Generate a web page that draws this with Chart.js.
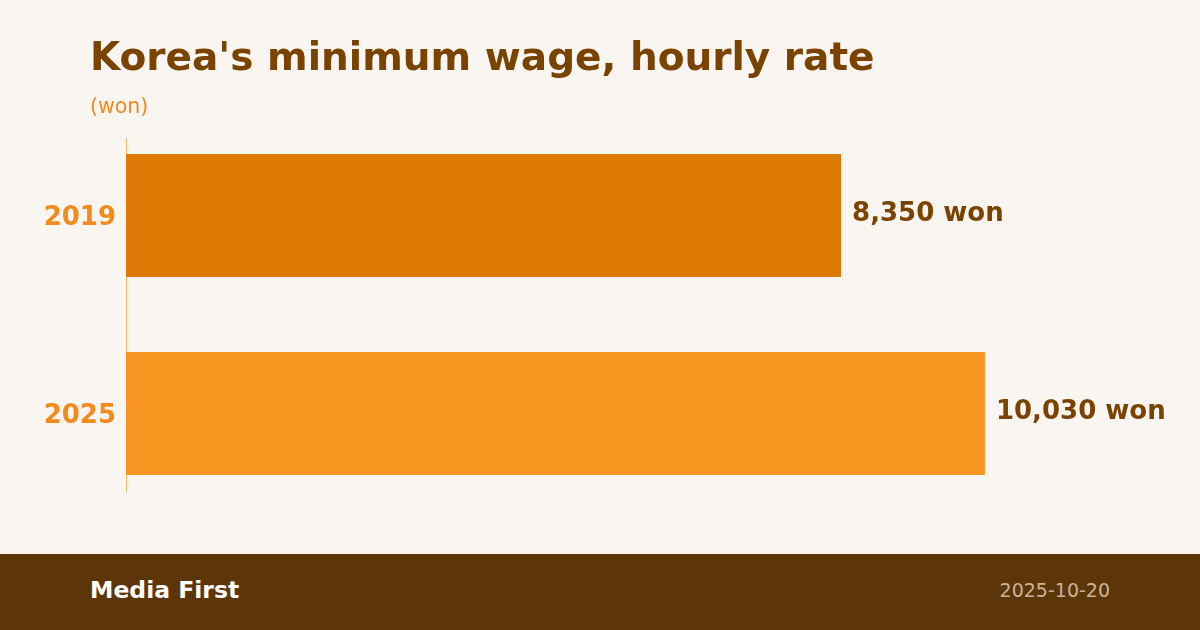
<!DOCTYPE html>
<html>
<head>
<meta charset="utf-8">
<script src="https://cdn.jsdelivr.net/npm/chart.js@4.4.1/dist/chart.umd.min.js"></script>
<style>
	html, body {
		margin: 0;
		padding: 0;
		background: #F9F6F1;
		font-family: "DejaVu Sans", sans-serif;
	}
	#page {
		position: relative;
		width: 1200px;
		height: 630px;
		overflow: hidden;
		background: #F9F6F1;
	}
	#title {
		position: absolute;
		left: 90px;
		top: 34px;
		font-size: 39px;
		font-weight: bold;
		color: #7A4300;
		white-space: nowrap;
	}
	#unit {
		position: absolute;
		left: 90px;
		top: 94px;
		font-size: 20.5px;
		color: #F28B1C;
	}
	#wrapper-chart {
		position: absolute;
		left: 0;
		top: 0;
		width: 1200px;
		height: 554px;
	}
	#footer {
		position: absolute;
		left: 0;
		top: 554px;
		width: 1200px;
		height: 76px;
		background: #5C3508;
	}
	#brand {
		position: absolute;
		left: 90px;
		top: 22px;
		font-size: 23.5px;
		font-weight: bold;
		color: #FFFFFF;
	}
	#date {
		position: absolute;
		right: 90px;
		top: 25px;
		font-size: 19px;
		color: #C9B49A;
	}
</style>
</head>
<body>
<div id="page">
	<div id="wrapper-chart"><canvas id="bar-wage"></canvas></div>
	<div id="title">Korea's minimum wage, hourly rate</div>
	<div id="unit">(won)</div>
	<div id="footer">
		<div id="brand">Media First</div>
		<div id="date">2025-10-20</div>
	</div>
</div>
<script>
	const years = ["2019", "2025"];
	const wages = [8350, 10030];
	const barColors = ["#DE7A05", "#F79520"];
	const valueLabels = ["8,350 won", "10,030 won"];

	// thin axis line next to the bars, a bit shorter than the plot area
	const axisLine = {
		id: "axisLine",
		beforeDatasetsDraw(chart) {
			const { ctx, chartArea } = chart;
			ctx.save();
			ctx.strokeStyle = "#F8B86E";
			ctx.lineWidth = 1;
			ctx.beginPath();
			ctx.moveTo(chartArea.left + 0.5, chartArea.top + 21.5);
			ctx.lineTo(chartArea.left + 0.5, chartArea.bottom - 20.5);
			ctx.stroke();
			ctx.restore();
		},
	};

	// value text at the end of each bar
	const barValues = {
		id: "barValues",
		afterDatasetsDraw(chart) {
			const { ctx } = chart;
			const meta = chart.getDatasetMeta(0);
			ctx.save();
			ctx.font = "bold 26px 'DejaVu Sans'";
			ctx.fillStyle = "#7A4300";
			ctx.textAlign = "left";
			ctx.textBaseline = "middle";
			meta.data.forEach((bar, i) => {
				ctx.fillText(valueLabels[i], bar.x + 11, bar.y - 1);
			});
			ctx.restore();
		},
	};

	let ctx = document.getElementById("bar-wage").getContext("2d");

	let barChart = new Chart(ctx, {
		type: "bar",
		data: {
			labels: years,
			datasets: [
				{
					data: wages,
					backgroundColor: barColors,
					borderWidth: 0,
					barPercentage: 0.621,
					categoryPercentage: 1,
				},
			],
		},
		options: {
			indexAxis: "y",
			responsive: true,
			maintainAspectRatio: false,
			animation: false,
			layout: {
				padding: { top: 116.5, bottom: 41.5, left: 0, right: 46.4 },
			},
			scales: {
				x: {
					display: false,
					min: 0,
					max: 12000,
				},
				y: {
					grid: { display: false, drawTicks: false },
					border: { display: false },
					ticks: {
						padding: 10,
						labelOffset: 3,
						color: "#F28B1C",
						font: { family: "DejaVu Sans", size: 26, weight: "bold" },
					},
					afterFit: (scale) => {
						scale.width = 126;
					},
				},
			},
			plugins: {
				legend: { display: false },
				tooltip: { enabled: false },
			},
		},
		plugins: [axisLine, barValues],
	});
</script>
</body>
</html>
